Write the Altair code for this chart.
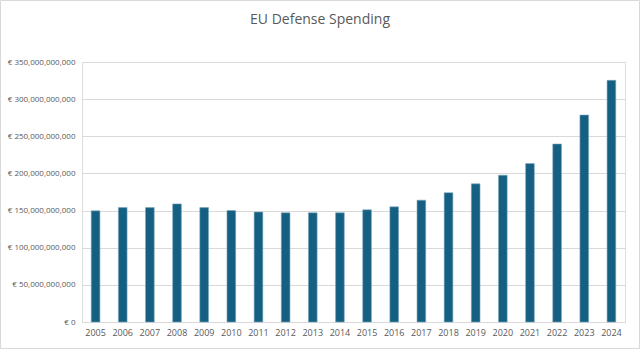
import altair as alt
import pandas as pd

years = [str(y) for y in range(2005, 2025)]
spending_bn = [149.6, 154, 154, 159, 154, 150, 148, 147, 147, 147,
               151, 155, 164, 174, 186, 197.6, 213.2, 239.6, 278.6, 325.3]
y_ticks_bn = [0, 50, 100, 150, 200, 250, 300, 350]

df = pd.DataFrame({"year": years, "spending": [v * 1e9 for v in spending_bn]})

FONT = "Open Sans"
GRAY = "#595959"

base = alt.Chart(df)

bars = base.mark_bar(color="#156082", stroke="#7aa6bc", strokeWidth=0.6).encode(
    x=alt.X("year:N", sort=years, title=None,
            scale=alt.Scale(paddingInner=0.68, paddingOuter=0.34),
            axis=alt.Axis(labelAngle=0, ticks=False, domainColor="#d9d9d9",
                          labelColor=GRAY, labelFont=FONT, labelFontSize=9,
                          labelPadding=6)),
    y=alt.Y("spending:Q", title=None,
            scale=alt.Scale(domain=[0, 350e9], nice=False),
            axis=alt.Axis(values=[v * 1e9 for v in y_ticks_bn],
                          labelExpr="'€ ' + format(datum.value, ',')",
                          ticks=False, domain=False, gridColor="#d9d9d9",
                          labelColor=GRAY, labelFont=FONT, labelFontSize=8,
                          labelPadding=7)),
)

border = alt.Chart(pd.DataFrame({"a": [0]})).mark_rect(
    fill=None, stroke="#d9d9d9", strokeWidth=1, clip=False
).encode(
    x=alt.value(-81.5), x2=alt.value(557.5),
    y=alt.value(-61.5), y2=alt.value(286.5),
)

chart = alt.layer(bars, border).properties(
    width=543, height=260,
    padding={"left": 82, "top": 62, "right": 15, "bottom": 27},
    autosize=alt.AutoSizeParams(type="none"),
    title=alt.TitleParams("EU Defense Spending", font=FONT, fontSize=14,
                          fontWeight="normal", color=GRAY, anchor="middle",
                          dx=-33.5, offset=-27),
).configure_view(stroke=None).configure(background="white")

chart.save("out.html", embed_options={"renderer": "svg", "actions": False})
